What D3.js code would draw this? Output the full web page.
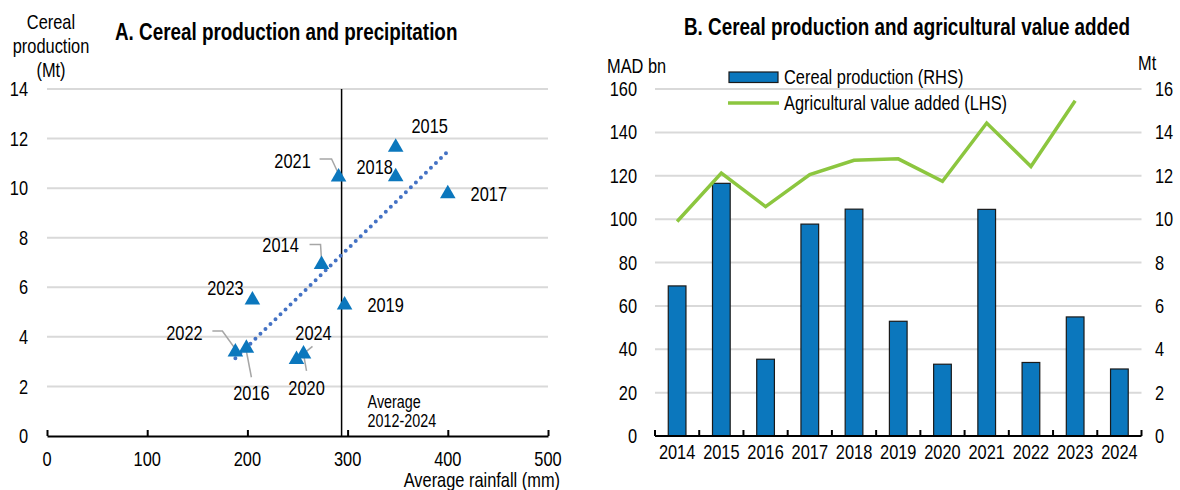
<!DOCTYPE html>
<html>
<head>
<meta charset="utf-8">
<script src="https://cdn.jsdelivr.net/npm/d3@7"></script>
<style>
  body { margin: 0; background: #fff; }
  svg text { font-family: "Liberation Sans", Arial, sans-serif; fill: #000; }
</style>
</head>
<body>
<div id="chart"></div>
<script>
// ---- data ----
const years = [2014, 2015, 2016, 2017, 2018, 2019, 2020, 2021, 2022, 2023, 2024];
// average rainfall (mm) and cereal production (Mt)
const rainfall = [274, 348, 199, 400, 348, 297, 256, 291, 188, 205, 249];
const cereal = [6.92, 11.65, 3.54, 9.77, 10.46, 5.29, 3.31, 10.45, 3.39, 5.49, 3.09];
// agricultural value added (MAD bn), 2024 not available
const agriVA = [98.9, 121.2, 105.8, 120.5, 127.1, 127.8, 117.4, 144.3, 124.3, 154.6, null];
const avgRain = 294;

const ticksA_x = [0, 100, 200, 300, 400, 500];
const ticksA_y = [0, 2, 4, 6, 8, 10, 12, 14];
const ticksB_left = [0, 20, 40, 60, 80, 100, 120, 140, 160];
const ticksB_right = [0, 2, 4, 6, 8, 10, 12, 14, 16];

// label placement for panel A (pixel offsets from the point, leader polyline)
const labelPos = {
  2014: { dx: -41, dy: -20, leader: [[-12, -20], [-1, -20], [0, -4]] },
  2015: { dx: 34, dy: -21 },
  2016: { dx: 5, dy: 45, leader: [[5, 29], [0, 3]] },
  2017: { dx: 41, dy: 0 },
  2018: { dx: -21, dy: -10 },
  2019: { dx: 41, dy: 0 },
  2020: { dx: 3, dy: 34, leader: [[3, 17], [0, 0]] },
  2021: { dx: -46, dy: -16, leader: [[-19, -18], [-7, -18], [0, -3]] },
  2022: { dx: -51, dy: -19, leader: [[-23, -21], [-13, -21], [0, -3]] },
  2023: { dx: -27, dy: -12 },
  2024: { dx: 17, dy: -27, leader: [[16, -13], [0, 0]] }
};

const blue = "#0b77bd", green = "#8cc63f", dotBlue = "#4472c4", grid = "#d9d9d9";
const narrow = 0.82; // Arial Narrow look, squeezing Liberation Sans

const svg = d3.select("#chart").append("svg")
  .attr("width", 1180).attr("height", 490);

// ================= Panel A =================
const xA = d3.scaleLinear().domain([0, 500]).range([47, 548]);
const yA = d3.scaleLinear().domain([0, 14]).range([436, 89]);
const gA = svg.append("g");

gA.append("text").attr("x", 115).attr("y", 32).attr("dominant-baseline", "central")
  .style("font-size", "23px").style("font-weight", "bold")
  .text("A. Cereal production and precipitation");

["Cereal", "production", "(Mt)"].forEach((t, i) => {
  gA.append("text").attr("x", 51).attr("y", 22 + i * 24).attr("text-anchor", "middle")
    .attr("dominant-baseline", "central").style("font-size", "20px").text(t);
});

gA.append("g").selectAll("line").data(ticksA_y.filter(d => d > 0)).join("line")
  .attr("x1", xA(0)).attr("x2", xA(500))
  .attr("y1", d => yA(d)).attr("y2", d => yA(d))
  .attr("stroke", grid).attr("stroke-width", 2);

gA.append("g").selectAll("text").data(ticksA_y).join("text")
  .attr("x", 28).attr("y", d => yA(d)).attr("text-anchor", "end")
  .attr("dominant-baseline", "central").style("font-size", "20px").text(d => d);

// x axis
const axA = gA.append("g").attr("transform", `translate(0,${yA(0)})`)
  .call(d3.axisBottom(xA).tickValues(ticksA_x).tickSize(-6).tickSizeOuter(0).tickFormat(""));
axA.select(".domain").attr("stroke", "#000").attr("stroke-width", 2);
axA.selectAll(".tick line").attr("stroke", "#000").attr("stroke-width", 2);

gA.append("g").selectAll("text").data(ticksA_x).join("text")
  .attr("x", d => xA(d)).attr("y", 459).attr("text-anchor", "middle")
  .attr("dominant-baseline", "central").style("font-size", "20px").text(d => d);

gA.append("text").attr("x", 560).attr("y", 480).attr("text-anchor", "end")
  .attr("dominant-baseline", "central").style("font-size", "20px").text("Average rainfall (mm)");

// average rainfall line
gA.append("line").attr("x1", xA(avgRain)).attr("x2", xA(avgRain))
  .attr("y1", yA(14)).attr("y2", yA(0)).attr("stroke", "#000").attr("stroke-width", 1.5);
gA.append("text").attr("x", xA(avgRain) + 26).attr("y", 402).attr("dominant-baseline", "central")
  .style("font-size", "17.5px").text("Average");
gA.append("text").attr("x", xA(avgRain) + 26).attr("y", 421).attr("dominant-baseline", "central")
  .style("font-size", "17.5px").text("2012-2024");

// linear trend
const pts = years.map((y, i) => ({ year: y, x: rainfall[i], y: cereal[i] }));
const mx = d3.mean(pts, d => d.x), my = d3.mean(pts, d => d.y);
const slope = d3.sum(pts, d => (d.x - mx) * (d.y - my)) / d3.sum(pts, d => (d.x - mx) ** 2);
const [x0, x1] = d3.extent(pts, d => d.x);
gA.append("line")
  .attr("x1", xA(x0)).attr("y1", yA(my + slope * (x0 - mx)))
  .attr("x2", xA(x1)).attr("y2", yA(my + slope * (x1 - mx)))
  .attr("stroke", dotBlue).attr("stroke-width", 4)
  .attr("stroke-linecap", "round").attr("stroke-dasharray", "0 7");

// leaders
const lineGen = d3.line();
pts.forEach(p => {
  const lp = labelPos[p.year];
  if (lp.leader) {
    gA.append("path")
      .attr("d", lineGen(lp.leader.map(([a, b]) => [xA(p.x) + a, yA(p.y) + b])))
      .attr("fill", "none").attr("stroke", "#a6a6a6").attr("stroke-width", 1.5);
  }
});

gA.append("g").selectAll("path").data(pts).join("path")
  .attr("d", d3.symbol().type(d3.symbolTriangle).size(105))
  .attr("transform", d => `translate(${xA(d.x)},${yA(d.y)})`)
  .attr("fill", blue);

gA.append("g").selectAll("text").data(pts).join("text")
  .attr("x", d => xA(d.x) + labelPos[d.year].dx)
  .attr("y", d => yA(d.y) + labelPos[d.year].dy)
  .attr("text-anchor", "middle").attr("dominant-baseline", "central")
  .style("font-size", "20px").text(d => d.year);

// ================= Panel B =================
const xB = d3.scaleBand().domain(years).range([655, 1141.5]).paddingInner(0.6).paddingOuter(0.3);
const yL = d3.scaleLinear().domain([0, 160]).range([436, 89]);
const yR = d3.scaleLinear().domain([0, 16]).range([436, 89]);
const gB = svg.append("g");

gB.append("text").attr("x", 684).attr("y", 27).attr("dominant-baseline", "central")
  .style("font-size", "23px").style("font-weight", "bold")
  .text("B. Cereal production and agricultural value added");

gB.append("text").attr("x", 607).attr("y", 66).attr("dominant-baseline", "central")
  .style("font-size", "20px").text("MAD bn");
gB.append("text").attr("x", 1138).attr("y", 63).attr("dominant-baseline", "central")
  .style("font-size", "20px").text("Mt");

gB.append("g").selectAll("line").data(ticksB_left.filter(d => d > 0)).join("line")
  .attr("x1", 655).attr("x2", 1141.5)
  .attr("y1", d => yL(d)).attr("y2", d => yL(d))
  .attr("stroke", grid).attr("stroke-width", 2);

gB.append("g").selectAll("text").data(ticksB_left).join("text")
  .attr("x", 637).attr("y", d => yL(d)).attr("text-anchor", "end")
  .attr("dominant-baseline", "central").style("font-size", "20px").text(d => d);
gB.append("g").selectAll("text").data(ticksB_right).join("text")
  .attr("x", 1155).attr("y", d => yR(d)).attr("text-anchor", "start")
  .attr("dominant-baseline", "central").style("font-size", "20px").text(d => d);

// bars (RHS)
gB.append("g").selectAll("rect").data(years).join("rect")
  .attr("x", d => xB(d)).attr("width", xB.bandwidth())
  .attr("y", (d, i) => yR(cereal[i])).attr("height", (d, i) => yR(0) - yR(cereal[i]))
  .attr("fill", blue).attr("stroke", "#1a1a1a").attr("stroke-width", 1.2);

// x axis with ticks at category boundaries
const bounds = years.map(d => xB(d) - xB.step() * 0.3).concat([1141.5]);
gB.append("line").attr("x1", 655).attr("x2", 1141.5).attr("y1", yL(0)).attr("y2", yL(0))
  .attr("stroke", "#000").attr("stroke-width", 2);
gB.append("g").selectAll("line").data(bounds).join("line")
  .attr("x1", d => d).attr("x2", d => d).attr("y1", yL(0)).attr("y2", yL(0) - 6)
  .attr("stroke", "#000").attr("stroke-width", 2);
gB.append("g").selectAll("text").data(years).join("text")
  .attr("x", d => xB(d) + xB.bandwidth() / 2).attr("y", 452).attr("text-anchor", "middle")
  .attr("dominant-baseline", "central").style("font-size", "20px").text(d => d);

// line (LHS)
const va = years.map((y, i) => ({ year: y, v: agriVA[i] })).filter(d => d.v != null);
gB.append("path").datum(va)
  .attr("d", d3.line().x(d => xB(d.year) + xB.bandwidth() / 2).y(d => yL(d.v)))
  .attr("fill", "none").attr("stroke", green).attr("stroke-width", 3.5)
  .attr("stroke-linejoin", "miter");

// legend
gB.append("rect").attr("x", 729).attr("y", 72).attr("width", 49).attr("height", 10.5)
  .attr("fill", blue).attr("stroke", "#1a1a1a").attr("stroke-width", 1.2);
gB.append("text").attr("x", 784).attr("y", 77).attr("dominant-baseline", "central")
  .style("font-size", "20px").text("Cereal production (RHS)");
gB.append("line").attr("x1", 728).attr("x2", 779).attr("y1", 103).attr("y2", 103)
  .attr("stroke", green).attr("stroke-width", 3.5);
gB.append("text").attr("x", 784).attr("y", 103).attr("dominant-baseline", "central")
  .style("font-size", "20px").text("Agricultural value added (LHS)");

// condense every text horizontally to mimic a narrow face
svg.selectAll("text").each(function () {
  const t = d3.select(this);
  const x = +t.attr("x"), y = +t.attr("y");
  t.attr("x", 0).attr("y", 0)
    .attr("transform", `translate(${x},${y}) scale(${narrow},1)`);
});
</script>
</body>
</html>
